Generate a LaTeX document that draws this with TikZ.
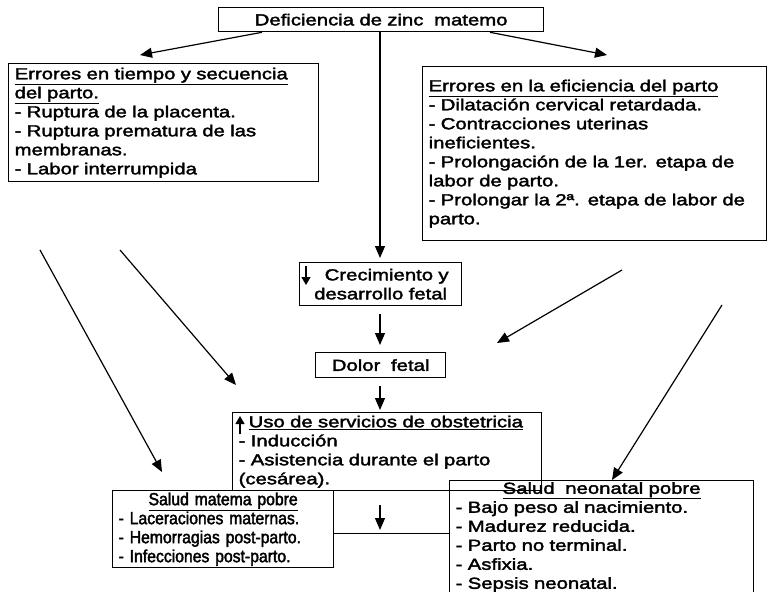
\documentclass[tikz,border=0pt]{standalone}
\usepackage{fontspec}
\setmainfont{Liberation Sans}[FakeStretch=1.27,FakeBold=2.2]
\newfontfamily\narrowfont{Liberation Sans}[FakeStretch=0.9,FakeBold=2.2]
\usetikzlibrary{arrows.meta,calc}
\begin{document}
\begin{tikzpicture}[x=1pt,y=-1pt,
  every node/.style={font=\fontsize{16}{19}\selectfont},
  box/.style={draw,line width=1.3pt,inner xsep=6pt,inner ysep=0pt,anchor=north west,align=left},
  arr/.style={line width=1.2pt,-{Triangle[length=12pt,width=10pt]}},
  ln/.style={line width=1.2pt},
  tiny/.style={line width=1.2pt,-{Triangle[length=8pt,width=9pt]}}]
\useasboundingbox (0,0) rectangle (769,592);
\coordinate (cx) at (380,0);
% boxes
\node[box,minimum height=24pt,text width=313pt,align=center] (top) at (218,7) {Deficiencia de zinc\ \ matemo};
\node[box,minimum height=118pt,text width=298pt] (left) at (8,63)
 {\underline{Errores en tiempo y secuencia}\\\underline{del parto.}\\- Ruptura de la placenta.\\- Ruptura prematura de las\\membranas.\\- Labor interrumpida};
\node[box,minimum height=174pt,text width=332pt] (right) at (422,66)
 {\underline{Errores en la eficiencia del parto}\\- Dilatación cervical retardada.\\- Contracciones uterinas\\ineficientes.\\- Prolongación de la 1er. etapa de\\labor de parto.\\- Prolongar la 2ª. etapa de labor de\\parto.};
\node[box,minimum height=43pt,text width=150pt,align=center] (crec) at (299,262)
 {\hspace*{12pt}Crecimiento y\\desarrollo fetal};
\node[box,minimum height=25pt,text width=118pt,align=center] (dolor) at (315,352) {Dolor\ \ fetal};
\node[box,minimum height=78pt,text width=297pt] (uso) at (232,412)
 {\hspace*{10pt}\underline{Uso de servicios de obstetricia}\\- Inducción\\- Asistencia durante el parto\\(cesárea).};
\node[box,minimum height=77pt,text width=209pt,font=\fontsize{17.5}{19}\narrowfont] (materna) at (112,490)
 {\makebox[209pt]{\underline{Salud matema pobre}}\\- Laceraciones maternas.\\- Hemorragias post-parto.\\- Infecciones post-parto.};
\node[box,minimum height=113pt,text width=292pt] (neonatal) at (449,480)
 {\makebox[292pt]{\underline{Salud\ \ neonatal pobre}}\\- Bajo peso al nacimiento.\\- Madurez reducida.\\- Parto no terminal.\\- Asfixia.\\- Sepsis neonatal.};
% free ends
\coordinate (lefttip) at (140,55);
\coordinate (righttip) at (607,55);
\coordinate (la) at (40,250);
\coordinate (latip) at (162,472);
\coordinate (lb) at (120,250);
\coordinate (lbtip) at (236,385);
\coordinate (ra) at (622,270);
\coordinate (ratip) at (497,343);
\coordinate (rb) at (722,305);
\coordinate (rbtip) at (612,480);
\coordinate (cb) at (380,505);
\coordinate (cbtip) at (380,530);
% connectors
\draw[arr] ($(top.south west)+(44,0)$) -- (lefttip);
\draw[arr] ($(top.south west)+(272,0)$) -- (righttip);
\draw[arr,shorten >=4pt] (top.south -| cx) -- (crec.north -| cx);
\draw[arr,shorten <=8pt,shorten >=7pt] (crec.south -| cx) -- (dolor.north -| cx);
\draw[arr,shorten <=8pt,shorten >=2pt] (dolor.south -| cx) -- (uso.north -| cx);
\draw[arr] (ra) -- (ratip);
\draw[arr] (la) -- (latip);
\draw[arr] (lb) -- (lbtip);
\draw[arr] (cb) -- (cbtip);
\draw[arr] (rb) -- (rbtip);
\draw[ln] ($(materna.east)+(0,4)$) -- ($(materna.east -| neonatal.west)+(0,4)$);
% small arrows inside boxes
\draw[tiny] ($(crec.north west)+(7,4)$) -- ($(crec.north west)+(7,23)$);
\draw[tiny] ($(uso.north west)+(8,22)$) -- ($(uso.north west)+(8,4)$);
\end{tikzpicture}
\end{document}
